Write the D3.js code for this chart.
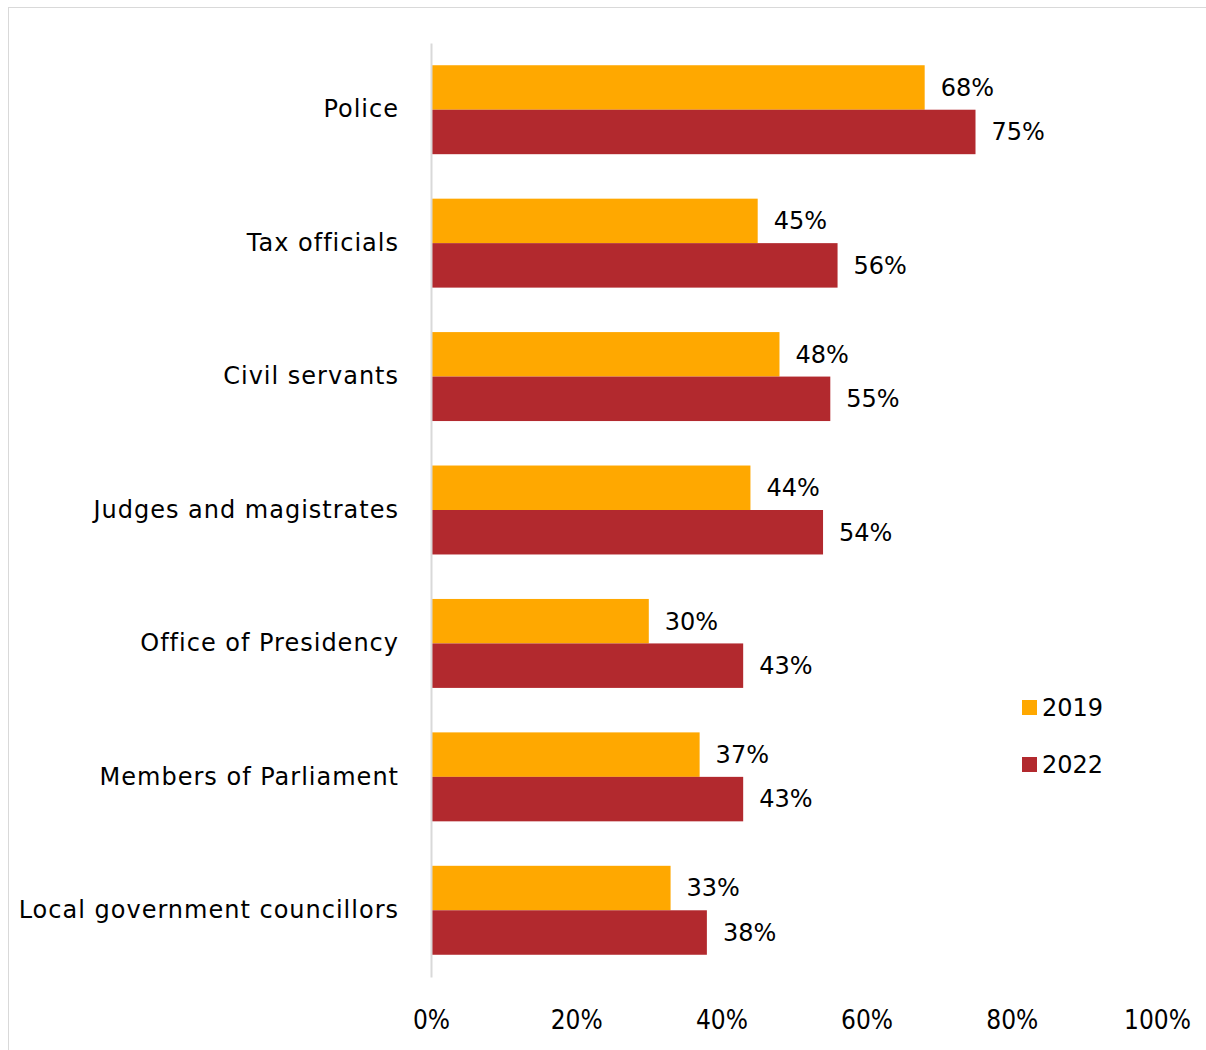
<!DOCTYPE html>
<html>
<head>
<meta charset="utf-8">
<script src="https://cdn.jsdelivr.net/npm/d3@7"></script>
<style>
    body { margin: 0; background: #fff; }
    svg text { fill: #000; }
    .cat { font-family: "Century Gothic", "DejaVu Sans", sans-serif; font-size: 24px; letter-spacing: 1px; }
    .val { font-family: "Century Gothic", "DejaVu Sans", sans-serif; font-size: 24px; }
    .tick-lbl { font-family: "Liberation Sans Narrow", "DejaVu Sans Condensed", sans-serif; font-size: 26px; }
</style>
</head>
<body>
<svg id="chart" width="1206" height="1050"></svg>
<script>
    var categories = ["Police", "Tax officials", "Civil servants", "Judges and magistrates",
        "Office of Presidency", "Members of Parliament", "Local government councillors"];
    var seriesNames = ["2019", "2022"];
    var values2019 = [68, 45, 48, 44, 30, 37, 33];
    var values2022 = [75, 56, 55, 54, 43, 43, 38];
    var xTicks = [0, 20, 40, 60, 80, 100];
    var colors = ["#FFA800", "#B2292E"];

    var svg = d3.select("#chart");

    // outer frame
    svg.append("rect")
        .attr("x", 8.5).attr("y", 7.5)
        .attr("width", 1210).attr("height", 1060)
        .attr("fill", "none").attr("stroke", "#d9d9d9");

    var plot = { left: 431, right: 1157, top: 43, bottom: 977 };

    var x = d3.scaleLinear().domain([0, 100]).range([plot.left, plot.right]);
    var y = d3.scaleBand().domain(categories)
        .range([plot.top, plot.bottom])
        .paddingInner(1 / 3).paddingOuter(1 / 6);
    var ySub = d3.scaleBand().domain(seriesNames).range([0, y.bandwidth()]);

    var rows = categories.map(function (c, i) {
        return { cat: c, vals: [values2019[i], values2022[i]] };
    });

    var groups = svg.selectAll(".grp")
        .data(rows)
        .enter().append("g")
        .attr("class", "grp")
        .attr("transform", function (d) { return "translate(0," + y(d.cat) + ")"; });

    groups.selectAll("rect")
        .data(function (d) { return d.vals.map(function (v, j) { return { s: seriesNames[j], v: v, j: j }; }); })
        .enter().append("rect")
        .attr("x", x(0))
        .attr("y", function (d) { return ySub(d.s); })
        .attr("width", function (d) { return x(d.v) - x(0); })
        .attr("height", ySub.bandwidth())
        .attr("fill", function (d) { return colors[d.j]; });

    groups.selectAll(".val")
        .data(function (d) { return d.vals.map(function (v, j) { return { s: seriesNames[j], v: v }; }); })
        .enter().append("text")
        .attr("class", "val")
        .attr("x", function (d) { return x(d.v) + 16; })
        .attr("y", function (d) { return ySub(d.s) + ySub.bandwidth() / 2; })
        .attr("dy", "0.35em")
        .text(function (d) { return d.v + "%"; });

    // category axis
    var yAxis = svg.append("g")
        .attr("transform", "translate(" + plot.left + ",0)")
        .call(d3.axisLeft(y).tickSize(0).tickPadding(32));
    yAxis.select(".domain").attr("stroke", "#d9d9d9").attr("stroke-width", 2);
    yAxis.selectAll("text").attr("class", "cat").attr("fill", "#000").attr("font-size", null).attr("font-family", null);

    // value axis (labels only)
    var xAxis = svg.append("g")
        .attr("transform", "translate(0," + plot.bottom + ")")
        .call(d3.axisBottom(x).tickValues(xTicks).tickSize(0).tickPadding(34)
            .tickFormat(function (d) { return d + "%"; }));
    xAxis.select(".domain").remove();
    xAxis.selectAll("text").attr("class", "tick-lbl").attr("fill", "#000").attr("font-size", null).attr("font-family", null);

    // legend
    var legend = svg.selectAll(".leg")
        .data(seriesNames)
        .enter().append("g")
        .attr("class", "leg")
        .attr("transform", function (d, i) { return "translate(1022," + (700 + i * 57) + ")"; });
    legend.append("rect")
        .attr("width", 15).attr("height", 15)
        .attr("fill", function (d, i) { return colors[i]; });
    legend.append("text")
        .attr("class", "val")
        .attr("x", 20).attr("y", 7.5).attr("dy", "0.35em")
        .text(function (d) { return d; });
</script>
</body>
</html>
